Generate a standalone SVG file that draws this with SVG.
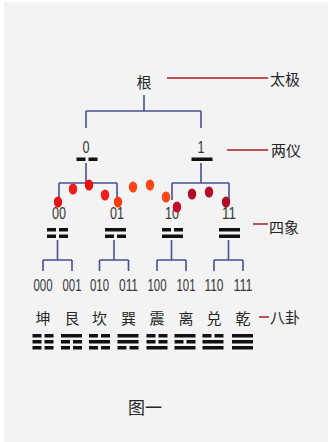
<svg xmlns="http://www.w3.org/2000/svg" width="329" height="442" viewBox="0 0 329 442">
<defs>
<style>
.bg{fill:#f3f3f3}
.tree{stroke:#4b4f8e;stroke-width:1.6;fill:none}
.lab{stroke:#c0505a;stroke-width:2;fill:none}
.cjk{font-family:"Noto Sans CJK SC","Noto Sans",sans-serif;fill:#262626}
.num{font-family:"Liberation Sans",Arial,sans-serif;fill:#383838;font-size:17px;text-anchor:middle}
.bar{fill:#111}
.dot{stroke:none}
</style>
<g id="yang"><rect class="bar" x="-10.5" y="0" width="21" height="3.5"/></g>
<g id="yin"><rect class="bar" x="-10.5" y="0" width="9" height="3.5"/><rect class="bar" x="1.5" y="0" width="9" height="3.5"/></g>
</defs>
<rect x="0" y="0" width="329" height="442" fill="#ffffff"/>
<rect class="bg" x="4" y="2" width="324" height="440"/>

<g id="connectors">
<path class="tree" d="M144 95V111M86 111H201M86 111V128M201 111V128"/>
<path class="tree" d="M86 163V183M59 183H117M59 183V200M117 183V200"/>
<path class="tree" d="M201 163V183M172 183H229M172 183V200M229 183V200"/>
<path class="tree" d="M57.5 240V260M43 260H72M43 260V271M72 260V271"/>
<path class="tree" d="M114 240V260M99.5 260H128.5M99.5 260V271M128.5 260V271"/>
<path class="tree" d="M171.5 240V260M157 260H186M157 260V271M186 260V271"/>
<path class="tree" d="M228.5 240V260M214 260H243M214 260V271M243 260V271"/>
<path class="lab" d="M167 78H268M227 150H268M253 224H268M259 317H269"/>
</g>

<g id="root"><text class="cjk" x="144" y="88" font-size="15" text-anchor="middle">根</text></g>
<g id="taiji-label"><text class="cjk" x="270" y="85" font-size="15">太极</text></g>
<g id="liangyi-label"><text class="cjk" x="271" y="156" font-size="15">两仪</text></g>
<g id="sixiang-label"><text class="cjk" x="269" y="233" font-size="15">四象</text></g>
<g id="bagua-label"><text class="cjk" x="270" y="323" font-size="15">八卦</text></g>

<g id="n0"><text class="num" x="86" y="153" textLength="7" lengthAdjust="spacingAndGlyphs">0</text><use href="#yin" x="87" y="157.5"/></g>
<g id="n1"><text class="num" x="201" y="153" textLength="7" lengthAdjust="spacingAndGlyphs">1</text><use href="#yang" x="202" y="157.5"/></g>

<g id="n00"><text class="num" x="59" y="219" textLength="14" lengthAdjust="spacingAndGlyphs">00</text><use href="#yin" x="57.5" y="228"/><use href="#yin" x="57.5" y="234.5"/></g>
<g id="n01"><text class="num" x="117" y="219" textLength="14" lengthAdjust="spacingAndGlyphs">01</text><use href="#yang" x="115.5" y="228"/><use href="#yin" x="115.5" y="234.5"/></g>
<g id="n10"><text class="num" x="172" y="219" textLength="14" lengthAdjust="spacingAndGlyphs">10</text><use href="#yin" x="172.5" y="228"/><use href="#yang" x="172.5" y="234.5"/></g>
<g id="n11"><text class="num" x="229" y="219" textLength="14" lengthAdjust="spacingAndGlyphs">11</text><use href="#yang" x="229.5" y="228"/><use href="#yang" x="229.5" y="234.5"/></g>

<g id="n000"><text class="num" x="43" y="291" textLength="19" lengthAdjust="spacingAndGlyphs">000</text><text class="cjk" x="43" y="324" font-size="15" text-anchor="middle">坤</text><use href="#yin" x="43" y="334"/><use href="#yin" x="43" y="340"/><use href="#yin" x="43" y="346"/></g>
<g id="n001"><text class="num" x="72" y="291" textLength="19" lengthAdjust="spacingAndGlyphs">001</text><text class="cjk" x="72" y="324" font-size="15" text-anchor="middle">艮</text><use href="#yang" x="71.5" y="334"/><use href="#yin" x="71.5" y="340"/><use href="#yin" x="71.5" y="346"/></g>
<g id="n010"><text class="num" x="99.5" y="291" textLength="19" lengthAdjust="spacingAndGlyphs">010</text><text class="cjk" x="99.5" y="324" font-size="15" text-anchor="middle">坎</text><use href="#yin" x="99.5" y="334"/><use href="#yang" x="99.5" y="340"/><use href="#yin" x="99.5" y="346"/></g>
<g id="n011"><text class="num" x="128.5" y="291" textLength="19" lengthAdjust="spacingAndGlyphs">011</text><text class="cjk" x="128.5" y="324" font-size="15" text-anchor="middle">巽</text><use href="#yang" x="128" y="334"/><use href="#yang" x="128" y="340"/><use href="#yin" x="128" y="346"/></g>
<g id="n100"><text class="num" x="157" y="291" textLength="19" lengthAdjust="spacingAndGlyphs">100</text><text class="cjk" x="157" y="324" font-size="15" text-anchor="middle">震</text><use href="#yin" x="157" y="334"/><use href="#yin" x="157" y="340"/><use href="#yang" x="157" y="346"/></g>
<g id="n101"><text class="num" x="186" y="291" textLength="19" lengthAdjust="spacingAndGlyphs">101</text><text class="cjk" x="186" y="324" font-size="15" text-anchor="middle">离</text><use href="#yang" x="185" y="334"/><use href="#yin" x="185" y="340"/><use href="#yang" x="185" y="346"/></g>
<g id="n110"><text class="num" x="214" y="291" textLength="19" lengthAdjust="spacingAndGlyphs">110</text><text class="cjk" x="214" y="324" font-size="15" text-anchor="middle">兑</text><use href="#yin" x="213" y="334"/><use href="#yang" x="213" y="340"/><use href="#yang" x="213" y="346"/></g>
<g id="n111"><text class="num" x="243" y="291" textLength="19" lengthAdjust="spacingAndGlyphs">111</text><text class="cjk" x="243" y="324" font-size="15" text-anchor="middle">乾</text><use href="#yang" x="242.5" y="334"/><use href="#yang" x="242.5" y="340"/><use href="#yang" x="242.5" y="346"/></g>

<g id="dots">
<ellipse class="dot" cx="58" cy="202" rx="4.2" ry="5.6" fill="#e8121a"/>
<ellipse class="dot" cx="73" cy="189" rx="4.2" ry="5.6" fill="#f01a1a"/>
<ellipse class="dot" cx="89" cy="185" rx="4.2" ry="5.6" fill="#ea1010"/>
<ellipse class="dot" cx="105" cy="195" rx="4.2" ry="5.6" fill="#f01c1c"/>
<ellipse class="dot" cx="118" cy="202" rx="4.2" ry="5.6" fill="#ff3c10"/>
<ellipse class="dot" cx="133" cy="187" rx="4.2" ry="5.6" fill="#ff4418"/>
<ellipse class="dot" cx="150" cy="185" rx="4.2" ry="5.6" fill="#ff4418"/>
<ellipse class="dot" cx="166" cy="197" rx="4.2" ry="5.6" fill="#ff4418"/>
<ellipse class="dot" cx="177" cy="207" rx="4.2" ry="5.6" fill="#c40e28"/>
<ellipse class="dot" cx="192" cy="194" rx="4.2" ry="5.6" fill="#b00c28"/>
<ellipse class="dot" cx="209" cy="192" rx="4.2" ry="5.6" fill="#b80c28"/>
<ellipse class="dot" cx="226" cy="202" rx="4.2" ry="5.6" fill="#b00c28"/>
</g>

<g id="caption"><text class="cjk" x="128" y="414" font-size="17">图一</text></g>
</svg>
